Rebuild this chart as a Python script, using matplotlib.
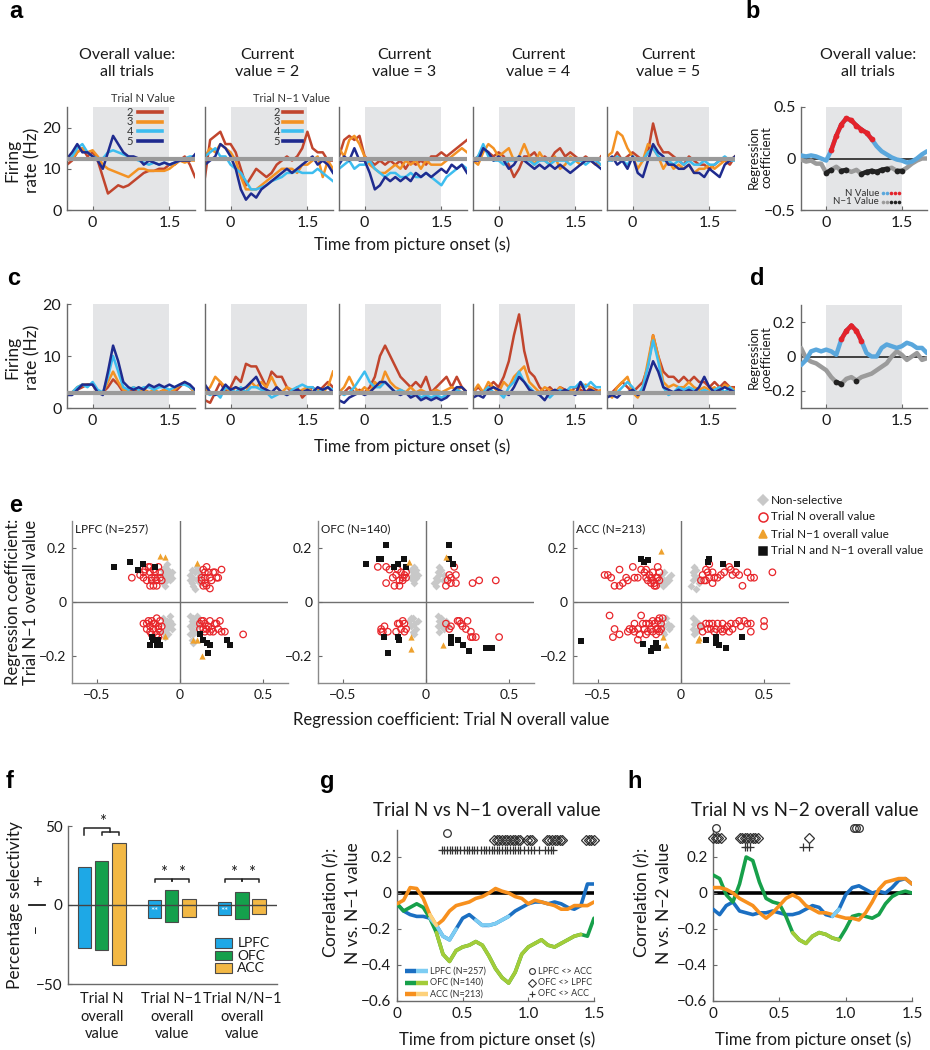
import numpy as np
import matplotlib
matplotlib.use("Agg")
import matplotlib.pyplot as plt
from matplotlib.lines import Line2D
from matplotlib.patches import Rectangle

plt.rcParams["font.family"] = ["Lato", "DejaVu Sans"]
plt.rcParams["axes.unicode_minus"] = True
plt.rcParams["mathtext.fontset"] = "custom"
plt.rcParams["mathtext.it"] = "Lato:italic"
plt.rcParams["mathtext.rm"] = "Lato"

# ---------------------------------------------------------------- data
T = [-0.5, -0.4, -0.3, -0.2, -0.1, 0.0, 0.1, 0.2, 0.3, 0.4, 0.5, 0.6, 0.7,
     0.8, 0.9, 1.0, 1.1, 1.2, 1.3, 1.4, 1.5, 1.6, 1.7, 1.8, 1.9, 2.0]
TG = [0.0, 0.05, 0.1, 0.15, 0.2, 0.25, 0.3, 0.35, 0.4, 0.45, 0.5, 0.55, 0.6,
      0.65, 0.7, 0.75, 0.8, 0.85, 0.9, 0.95, 1.0, 1.05, 1.1, 1.15, 1.2, 1.25,
      1.3, 1.35, 1.4, 1.45, 1.5]
VALUE_LABELS = ["2", "3", "4", "5"]
A_TITLES = ["Overall value:\nall trials", "Current\nvalue = 2", "Current\nvalue = 3",
            "Current\nvalue = 4", "Current\nvalue = 5"]

# panel a: firing rate (Hz) for value 2, 3, 4, 5
A0 = [[11, 12, 14, 15, 13, 14, 12, 8, 4, 5, 6, 5.5, 6, 7, 8, 9, 9.5, 9.5, 10, 10, 11, 11, 12, 13, 11, 8],
      [12, 12.5, 14, 15, 14, 14.5, 13, 11, 10, 9.5, 9, 8.5, 8, 9, 10, 10, 9.5, 9.5, 9.5, 9.5, 10, 11, 12, 11.5, 12, 12],
      [12, 13, 15, 16, 14, 13, 12.5, 12.5, 14, 14.5, 14, 13.5, 13, 12.5, 12, 11.5, 11, 11.5, 11, 11.5, 11, 11.5, 12, 12.5, 13, 13],
      [12.5, 14, 16, 14, 14, 13, 12, 10, 14, 18, 16, 14, 13, 13, 12.5, 11, 12, 11.5, 11, 11.5, 11, 11.5, 12, 12, 12, 13.5]]
A1 = [[8, 17, 18, 19, 16, 16, 14, 10, 6, 8, 10, 9, 8, 9, 11, 12, 13, 12, 13, 15, 19, 15, 14, 14, 12, 12],
      [13, 15, 14, 16, 15, 14, 12, 8, 5, 5, 5, 6, 7, 8, 9, 10, 10, 10, 9, 11, 11, 12, 13, 8, 12, 10],
      [13, 14, 15, 13, 13, 11, 10, 9, 7, 5, 5, 5.5, 6, 7, 7.5, 8, 9, 9, 9.5, 9, 9, 9, 10, 9, 8, 7],
      [11, 12, 13, 16, 15, 13, 10, 5, 2.5, 4, 3, 5, 6, 7, 8, 9, 10, 9, 10, 11, 12, 13, 11, 12, 11, 9]]
A2 = [[13, 17, 18, 17, 18, 13, 12, 11, 12, 11, 12, 11, 12, 10, 12, 11, 12, 11, 13, 13, 14, 13, 14, 15, 16, 17],
      [15, 13, 17, 18, 16, 13, 11, 10, 9, 9, 10, 11, 10, 12, 11, 12, 10, 12, 11, 11, 11, 12, 13, 14, 15, 14],
      [10, 11, 12, 10, 11, 11, 12, 10, 9, 8, 9, 9, 8, 8, 9, 8, 8, 9, 8, 7, 6, 8, 9, 10, 11, 10],
      [11, 13, 12, 15, 12, 12, 9, 5, 6, 8, 7, 8, 7, 8, 7, 9, 8, 9, 8, 9, 10, 9, 11, 10, 11, 9]]
A3 = [[12, 13, 15, 14, 13, 14, 13, 11, 8, 10, 13, 13, 14, 12, 13, 12, 14, 15, 13, 14, 13, 12, 13, 12, 11, 13],
      [12, 11, 14, 16, 15, 13, 14, 15, 12, 13, 16, 13, 11, 14, 12, 11, 13, 10, 11, 13, 12, 11, 12, 12, 11, 11],
      [12, 13, 16, 13, 12, 12, 11, 12, 12, 13, 12, 12, 11, 12, 12, 11, 12, 12, 12, 11, 12, 12, 11, 12, 12, 11],
      [12, 12, 15, 14, 12, 13, 12, 10, 11, 13, 12, 11, 10, 11, 10, 11, 10, 11, 10, 9, 10, 11, 12, 12, 11, 10]]
A4 = [[13, 12, 14, 12, 13, 14, 13, 12, 14, 21, 16, 14, 14, 13, 12, 11, 13, 12, 11, 11, 10, 11, 12, 12, 11, 13],
      [13, 14, 19, 18, 15, 13, 10, 12, 16, 15, 13, 10, 12, 10, 11, 10, 11, 9, 10, 10, 11, 10, 11, 12, 12, 13],
      [12, 12, 13, 12, 11, 13, 12, 12, 14, 15, 13, 12, 12, 11, 12, 11, 12, 11, 11, 12, 11, 11, 12, 13, 12, 12],
      [12, 13, 11, 12, 10, 13, 9, 8, 12, 16, 14, 13, 11, 11, 10, 10, 11, 9, 9, 8, 10, 9, 8, 11, 12, 13]]
A_BASE = 12.3

# panel c: firing rate (Hz)
C0 = [[3, 3, 3.5, 4, 4.5, 4.5, 3, 3, 4, 5.5, 4.5, 3, 3.5, 3.5, 3, 3.5, 3, 3, 3, 3.5, 3, 3, 4, 5, 4, 3],
      [3, 3, 4, 4.5, 4.5, 4.5, 3, 3, 5, 7, 5, 3.5, 3.5, 4, 3.5, 3.5, 3, 3.5, 3, 3.5, 3, 3.5, 4.5, 5, 4, 3],
      [2.5, 3, 4, 4.5, 4, 5, 3.5, 3, 6, 10, 7, 4, 3.5, 4, 3.5, 4, 4, 3.5, 4, 4, 3.5, 4, 4.5, 4.5, 4, 3.5],
      [2.5, 2.5, 3.5, 4.5, 4.5, 4.5, 3, 2.5, 7, 12, 9, 5, 4, 3.5, 4, 3.5, 4.5, 4, 4.5, 4, 4.5, 4, 4.5, 5, 4.5, 3.5]]
C1 = [[1.5, 1, 3, 5, 3, 4, 6, 5, 8.5, 8, 8, 6, 4, 7, 6, 6, 4, 3, 4, 2, 3, 4, 3, 4, 5, 4],
      [3, 4, 6, 5, 4, 3, 4, 3.5, 3, 5, 4, 5, 4, 6, 4, 3, 4, 3.5, 3, 3.5, 4, 3, 3.5, 3, 4, 7],
      [3, 2.5, 3, 2, 4, 3.5, 3, 4, 3, 4, 4, 3.5, 3, 2, 2.5, 3, 2.5, 3.5, 4, 4.5, 4, 4, 3, 3.5, 4, 3.5],
      [4.5, 3, 2.5, 3, 4.5, 3.5, 4, 3.5, 4, 5, 6, 4, 3.5, 3, 4, 3, 2.5, 3, 3.5, 3, 3.5, 3, 4, 3.5, 4, 3]]
C2 = [[2.5, 3, 4, 3, 3.5, 3, 4, 6, 10, 12, 10, 8, 6, 5, 4, 5, 4, 6, 3, 4, 5, 6, 4, 6, 4, 3],
      [3, 4, 6, 4, 3, 4, 3, 5, 4, 7, 5, 4, 3.5, 3, 4, 3, 3.5, 3, 3, 3.5, 3, 3.5, 4, 3.5, 4, 3],
      [3, 2.5, 3, 4, 5.5, 7, 5, 4, 4, 5, 4, 3, 3.5, 3, 2.5, 3, 2, 2.5, 2, 2.5, 2, 2.5, 3, 3.5, 3, 3],
      [1.5, 1, 2, 2.5, 3, 2.5, 3, 4, 5, 5, 4, 3, 2.5, 3, 2, 2.5, 1.5, 2, 1.5, 2, 1.5, 2, 3, 4, 4, 3]]
C3 = [[3, 4, 3, 4, 5, 4, 6, 9, 14, 18, 11, 7, 6, 4, 3, 4, 3, 4, 3.5, 3, 4, 3.5, 3, 4, 3.5, 3],
      [3, 4.5, 3, 5, 4, 3, 5, 4, 6, 7, 8, 5, 4, 3, 4, 3.5, 3, 4, 3, 3.5, 3, 4, 4.5, 4, 3, 3.5],
      [3, 2.5, 3, 4, 3, 3, 2, 4, 5, 7, 5, 4, 3, 2.5, 3, 2, 3, 3.5, 3, 4, 4, 5, 4, 5, 4, 4],
      [2, 2.5, 2, 3.5, 4, 3.5, 3, 2.5, 4, 6, 5, 3.5, 3, 2.5, 1.5, 3, 3.5, 3, 3.5, 3, 2.5, 5, 3, 3.5, 3, 3]]
C4 = [[3, 3, 4, 5, 4, 3, 4, 5, 8, 14, 10, 7, 6, 6, 5, 6, 5, 6, 5, 5, 4, 5, 4, 5, 4, 4],
      [3, 2, 4, 5, 6, 3, 2, 4, 9, 14, 10, 5, 4, 4.5, 4, 4, 5, 4, 3.5, 4, 3.5, 4, 3, 4.5, 4, 3.5],
      [2.5, 3, 3, 4, 5, 4, 2.5, 4, 8, 13, 9, 4, 2.5, 3, 4, 3.5, 4, 3.5, 3, 3.5, 3, 3.5, 4, 3, 4, 3],
      [2, 2.5, 2, 3, 3, 3.5, 2.5, 3, 6, 9, 7, 4, 3.5, 3, 3.5, 3, 3.5, 3, 4, 6, 4, 3, 3.5, 4, 3.5, 3]]
C_BASE = 2.9

# panel b / d: regression coefficients and significance flags
B_N = [0.03, 0.02, 0.03, 0.02, 0.00, -0.02, 0.08, 0.22, 0.33, 0.39, 0.37, 0.32, 0.28,
       0.25, 0.19, 0.12, 0.07, 0.04, 0.01, -0.01, -0.02, -0.04, -0.03, 0.00, 0.04, 0.07]
B_N_SIG = [0, 0, 0, 0, 0, 0, 1, 1, 1, 1, 1, 1, 1, 1, 1, 0, 0, 0, 0, 0, 0, 0, 0, 0, 0, 0]
B_N1 = [-0.01, -0.03, -0.02, -0.05, -0.05, -0.14, -0.11, -0.08, -0.12, -0.11, -0.13, -0.11, -0.15,
        -0.13, -0.12, -0.13, -0.11, -0.10, -0.09, -0.12, -0.12, -0.09, -0.05, -0.02, 0.00, 0.00]
B_N1_SIG = [0, 0, 0, 0, 0, 1, 1, 0, 1, 1, 0, 0, 1, 1, 1, 1, 1, 1, 0, 1, 1, 0, 0, 0, 0, 0]
D_N = [-0.05, -0.02, 0.03, 0.04, 0.03, 0.04, 0.03, 0.01, 0.10, 0.15, 0.18, 0.15, 0.09,
       0.02, 0.00, 0.00, 0.05, 0.07, 0.06, 0.05, 0.06, 0.08, 0.07, 0.05, 0.05, 0.02]
D_N_SIG = [0, 0, 0, 0, 0, 0, 0, 0, 1, 1, 1, 1, 1, 0, 0, 0, 0, 0, 0, 0, 0, 0, 0, 0, 0, 0]
D_N1 = [0.05, -0.01, -0.03, -0.04, -0.06, -0.08, -0.12, -0.15, -0.16, -0.13, -0.12, -0.14, -0.12,
        -0.11, -0.10, -0.08, -0.06, -0.04, 0.00, 0.03, 0.01, -0.02, 0.00, 0.02, -0.02, -0.01]
D_N1_SIG = [0, 0, 0, 0, 0, 0, 0, 1, 1, 0, 0, 1, 0, 0, 0, 0, 0, 0, 0, 0, 0, 0, 0, 0, 0, 0]

# panel e: (N coefficient, N-1 coefficient)
LPFC_GRAY = [(-0.10, 0.12), (-0.09, 0.10), (-0.08, 0.11), (-0.07, 0.09), (-0.06, 0.10), (-0.05, 0.09),
             (-0.08, 0.08), (-0.10, 0.07), (-0.09, 0.13), (-0.07, 0.12), (-0.06, 0.08), (-0.11, 0.10),
             (-0.09, 0.06), (-0.05, 0.11), (-0.08, 0.14),
             (0.06, 0.10), (0.07, 0.12), (0.08, 0.09), (0.09, 0.11), (0.10, 0.08), (0.07, 0.07), (0.11, 0.12),
             (0.12, 0.10), (0.10, 0.13), (0.08, 0.06), (0.06, 0.08), (0.12, 0.07), (0.09, 0.05), (0.11, 0.09),
             (-0.10, -0.06), (-0.09, -0.08), (-0.08, -0.07), (-0.07, -0.09), (-0.06, -0.07), (-0.05, -0.08),
             (-0.08, -0.10), (-0.10, -0.11), (-0.07, -0.12), (-0.06, -0.05), (-0.09, -0.13), (-0.05, -0.10),
             (0.06, -0.05), (0.07, -0.07), (0.08, -0.06), (0.09, -0.08), (0.07, -0.10), (0.08, -0.12),
             (0.06, -0.09), (0.10, -0.05), (0.09, -0.11), (0.07, -0.14), (0.08, -0.15), (0.06, -0.12),
             (0.10, -0.09), (0.11, -0.07)]
LPFC_RED = [(-0.29, 0.09), (-0.24, 0.10), (-0.22, 0.09), (-0.21, 0.12), (-0.19, 0.13), (-0.18, 0.11),
            (-0.17, 0.08), (-0.16, 0.12), (-0.15, 0.09), (-0.18, 0.06), (-0.14, 0.08), (-0.12, 0.11),
            (-0.13, 0.13), (-0.17, 0.09), (-0.20, 0.08), (-0.14, 0.06), (-0.16, 0.06), (-0.18, 0.13),
            (-0.12, 0.09), (-0.11, 0.08), (-0.22, 0.11), (-0.15, 0.11),
            (0.13, 0.09), (0.14, 0.12), (0.16, 0.13), (0.17, 0.11), (0.15, 0.07), (0.14, 0.06), (0.16, 0.06),
            (0.18, 0.05), (0.18, 0.09), (0.20, 0.11), (0.21, 0.11), (0.22, 0.09), (0.25, 0.12), (0.23, 0.09),
            (0.15, 0.09), (0.19, 0.08), (0.13, 0.08), (0.15, 0.11),
            (-0.22, -0.08), (-0.20, -0.10), (-0.19, -0.07), (-0.18, -0.09), (-0.17, -0.07), (-0.16, -0.10),
            (-0.15, -0.08), (-0.14, -0.06), (-0.13, -0.09), (-0.12, -0.07), (-0.12, -0.11), (-0.14, -0.12),
            (-0.18, -0.11), (-0.20, -0.08), (-0.16, -0.08), (-0.13, -0.10), (-0.11, -0.09), (-0.17, -0.12),
            (-0.13, -0.13),
            (0.12, -0.08), (0.13, -0.07), (0.14, -0.10), (0.15, -0.08), (0.16, -0.10), (0.17, -0.09),
            (0.18, -0.07), (0.19, -0.10), (0.20, -0.11), (0.21, -0.08), (0.22, -0.08), (0.23, -0.10),
            (0.24, -0.07), (0.25, -0.11), (0.27, -0.11), (0.38, -0.12), (0.15, -0.11), (0.12, -0.10),
            (0.18, -0.11), (0.14, -0.07)]
LPFC_BLACK = [(-0.40, 0.13), (-0.30, 0.15), (-0.25, 0.12), (-0.22, 0.14), (-0.15, 0.13),
              (-0.18, -0.16), (-0.16, -0.14), (-0.14, -0.16), (-0.13, -0.14), (-0.12, -0.16),
              (-0.14, -0.15), (-0.17, -0.13), (0.12, -0.12), (0.14, -0.14), (0.16, -0.15),
              (0.18, -0.16), (0.17, -0.19), (0.28, -0.14), (0.30, -0.16)]
LPFC_TRI = [(-0.12, 0.17), (-0.09, 0.165), (0.10, 0.145), (-0.09, -0.125), (0.08, -0.14),
            (0.10, -0.14), (0.13, -0.20)]

OFC_GRAY = [(-0.09, 0.12), (-0.08, 0.10), (-0.07, 0.11), (-0.06, 0.09), (-0.08, 0.08), (-0.07, 0.07),
            (-0.05, 0.10), (-0.09, 0.09), (-0.06, 0.12), (-0.07, 0.13),
            (0.05, 0.07), (0.06, 0.09), (0.07, 0.11), (0.08, 0.10), (0.09, 0.12), (0.06, 0.06),
            (0.10, 0.08), (0.08, 0.13), (0.11, 0.10), (0.07, 0.08),
            (-0.10, -0.07), (-0.09, -0.09), (-0.08, -0.06), (-0.07, -0.08), (-0.06, -0.10), (-0.08, -0.11),
            (-0.05, -0.07), (-0.07, -0.12), (-0.09, -0.06),
            (0.07, -0.05), (0.08, -0.07), (0.09, -0.06), (0.10, -0.08), (0.07, -0.09), (0.11, -0.10),
            (0.08, -0.11), (0.12, -0.07), (0.09, -0.09), (0.13, -0.09)]
OFC_RED = [(-0.29, 0.13), (-0.24, 0.13), (-0.22, 0.12), (-0.20, 0.09), (-0.18, 0.10), (-0.17, 0.12),
           (-0.16, 0.08), (-0.14, 0.09), (-0.13, 0.10), (-0.12, 0.11), (-0.12, 0.09), (-0.24, 0.07),
           (-0.19, 0.06), (-0.16, 0.06), (-0.14, 0.08), (-0.15, 0.11),
           (0.17, 0.13), (0.14, 0.10), (0.18, 0.10), (0.13, 0.08), (0.15, 0.07), (0.12, 0.06),
           (0.18, 0.07), (0.28, 0.07), (0.32, 0.08), (0.42, 0.08), (0.15, 0.09),
           (-0.27, -0.11), (-0.25, -0.09), (-0.26, -0.11), (-0.23, -0.11), (-0.18, -0.11), (-0.16, -0.08),
           (-0.15, -0.10), (-0.14, -0.07), (-0.13, -0.08), (-0.13, -0.11), (-0.12, -0.10), (-0.17, -0.08),
           (-0.27, -0.10),
           (0.12, -0.08), (0.15, -0.09), (0.14, -0.10), (0.19, -0.07), (0.20, -0.07), (0.21, -0.08),
           (0.22, -0.09), (0.25, -0.07), (0.24, -0.10), (0.27, -0.11), (0.28, -0.13), (0.30, -0.13),
           (0.27, -0.13), (0.44, -0.13)]
OFC_BLACK = [(-0.36, 0.14), (-0.28, 0.16), (-0.27, 0.16), (-0.24, 0.21), (-0.19, 0.13), (-0.17, 0.14),
             (-0.13, 0.16), (-0.12, 0.13), (0.14, 0.21), (0.14, 0.16), (0.16, 0.14),
             (-0.25, -0.13), (-0.23, -0.19), (-0.17, -0.13), (-0.16, -0.14), (0.15, -0.13),
             (0.15, -0.15), (0.19, -0.14), (0.22, -0.16), (0.26, -0.18), (0.36, -0.17), (0.40, -0.17)]
OFC_TRI = [(-0.10, 0.15), (0.12, 0.165), (-0.09, -0.13), (-0.09, -0.175), (0.10, -0.16)]

ACC_GRAY = [(-0.12, 0.10), (-0.10, 0.08), (-0.08, 0.09), (-0.06, 0.10), (-0.09, 0.07), (-0.11, 0.06),
            (-0.07, 0.08), (-0.13, 0.07), (-0.10, 0.11),
            (0.07, 0.08), (0.08, 0.10), (0.09, 0.12), (0.06, 0.06), (0.10, 0.09), (0.08, 0.13),
            (0.11, 0.07), (0.07, 0.11), (0.09, 0.05),
            (-0.12, -0.07), (-0.10, -0.09), (-0.08, -0.08), (-0.07, -0.10), (-0.11, -0.11),
            (-0.09, -0.06), (-0.06, -0.09), (-0.10, -0.12),
            (0.07, -0.06), (0.08, -0.08), (0.09, -0.07), (0.10, -0.10), (0.07, -0.10), (0.11, -0.08),
            (0.08, -0.12), (0.12, -0.09), (0.09, -0.11)]
ACC_RED = [(-0.46, 0.10), (-0.44, 0.10), (-0.42, 0.09), (-0.37, 0.12), (-0.40, 0.06), (-0.37, 0.06),
           (-0.35, 0.07), (-0.33, 0.09), (-0.32, 0.08), (-0.29, 0.13), (-0.28, 0.09), (-0.26, 0.09),
           (-0.24, 0.12), (-0.22, 0.11), (-0.21, 0.09), (-0.20, 0.08), (-0.19, 0.10), (-0.18, 0.09),
           (-0.17, 0.11), (-0.17, 0.08), (-0.16, 0.07), (-0.15, 0.09), (-0.14, 0.09), (-0.16, 0.06),
           (-0.14, 0.13), (-0.13, 0.11), (-0.13, 0.08), (-0.15, 0.06), (-0.21, 0.12), (-0.18, 0.07),
           (0.17, 0.14), (0.15, 0.12), (0.13, 0.10), (0.14, 0.08), (0.12, 0.08), (0.15, 0.08),
           (0.17, 0.09), (0.19, 0.11), (0.20, 0.09), (0.22, 0.09), (0.24, 0.10), (0.26, 0.11),
           (0.29, 0.13), (0.30, 0.12), (0.31, 0.10), (0.33, 0.11), (0.35, 0.10), (0.37, 0.06),
           (0.40, 0.11), (0.42, 0.09), (0.44, 0.09), (0.55, 0.11), (0.19, 0.07), (0.16, 0.11),
           (-0.43, -0.05), (-0.40, -0.10), (-0.41, -0.13), (-0.37, -0.12), (-0.32, -0.11), (-0.31, -0.10),
           (-0.29, -0.10), (-0.28, -0.08), (-0.26, -0.10), (-0.25, -0.12), (-0.26, -0.14), (-0.24, -0.05),
           (-0.23, -0.08), (-0.22, -0.10), (-0.21, -0.08), (-0.20, -0.11), (-0.19, -0.08), (-0.18, -0.10),
           (-0.17, -0.07), (-0.17, -0.11), (-0.16, -0.08), (-0.15, -0.10), (-0.14, -0.07), (-0.14, -0.10),
           (-0.13, -0.06), (-0.12, -0.08), (-0.12, -0.10), (-0.11, -0.06), (-0.13, -0.11), (-0.15, -0.12),
           (-0.28, -0.11), (-0.21, -0.12),
           (0.12, -0.09), (0.13, -0.11), (0.15, -0.08), (0.16, -0.10), (0.17, -0.08), (0.18, -0.10),
           (0.19, -0.08), (0.21, -0.10), (0.22, -0.08), (0.24, -0.10), (0.25, -0.08), (0.26, -0.10),
           (0.28, -0.09), (0.29, -0.11), (0.30, -0.08), (0.31, -0.10), (0.33, -0.08), (0.35, -0.07),
           (0.36, -0.09), (0.38, -0.07), (0.40, -0.08), (0.42, -0.08), (0.42, -0.11), (0.50, -0.07),
           (0.50, -0.09), (0.20, -0.11), (0.25, -0.11)]
ACC_BLACK = [(-0.24, 0.16), (-0.22, 0.15), (-0.20, 0.155), (0.16, 0.15), (0.17, 0.16), (0.25, 0.14),
             (0.34, 0.14), (-0.60, -0.145), (-0.23, -0.155), (-0.18, -0.18), (-0.17, -0.17),
             (-0.15, -0.15), (-0.14, -0.17), (0.15, -0.14), (0.21, -0.13), (0.21, -0.15),
             (0.23, -0.16), (0.27, -0.17), (0.37, -0.13)]
ACC_TRI = [(-0.12, 0.19), (-0.11, -0.13), (-0.09, -0.16), (0.10, -0.14), (0.11, -0.135)]

E_AREAS = ["LPFC (N=257)", "OFC (N=140)", "ACC (N=213)"]

# panel f: percentage selectivity (positive, negative) per area
F_GROUPS = ["Trial N\noverall\nvalue", "Trial N\u22121\noverall\nvalue", "Trial N/N\u22121\noverall\nvalue"]
F_AREAS = ["LPFC", "OFC", "ACC"]
F_POS = {"LPFC": [24, 3, 2], "OFC": [28, 9.5, 8], "ACC": [39.5, 4, 3.5]}
F_NEG = {"LPFC": [-27, -8, -6.5], "OFC": [-28.5, -11, -9], "ACC": [-38, -7.5, -5.5]}

# panel g / h: correlation time courses + significance flags
LPFC_G = [-0.06, -0.10, -0.12, -0.13, -0.13, -0.14, -0.18, -0.24, -0.26, -0.20, -0.14, -0.12, -0.15,
          -0.18, -0.18, -0.17, -0.15, -0.13, -0.10, -0.08, -0.06, -0.05, -0.05, -0.06, -0.05, -0.06,
          -0.08, -0.09, -0.07, 0.05, 0.05]
LPFC_G_SIG = [0, 0, 0, 0, 0, 1, 1, 1, 1, 1, 0, 0, 1, 1, 1, 1, 1, 1, 0, 0, 0, 0, 0, 0, 0, 0, 0, 0, 0, 0, 0]
OFC_G = [-0.06, -0.10, -0.08, -0.06, -0.08, -0.14, -0.22, -0.34, -0.38, -0.32, -0.30, -0.29, -0.27,
         -0.29, -0.35, -0.42, -0.47, -0.50, -0.44, -0.34, -0.30, -0.28, -0.26, -0.29, -0.30, -0.28,
         -0.26, -0.24, -0.23, -0.24, -0.14]
OFC_G_SIG = [0, 0, 0, 0, 0, 0, 1, 1, 1, 1, 1, 1, 1, 1, 1, 1, 1, 1, 1, 1, 1, 1, 1, 1, 1, 1, 1, 1, 1, 0, 0]
ACC_G = [-0.06, -0.04, 0.03, 0.025, -0.03, -0.12, -0.18, -0.15, -0.10, -0.07, -0.06, -0.05, -0.03,
         -0.02, 0.00, 0.025, 0.01, 0.00, -0.02, -0.03, -0.06, -0.04, -0.05, -0.06, -0.07, -0.09,
         -0.09, -0.07, -0.07, -0.07, -0.05]
ACC_G_SIG = [0, 0, 0, 0, 0, 1, 1, 0, 0, 0, 0, 0, 0, 0, 0, 0, 0, 0, 0, 0, 0, 0, 0, 0, 0, 0, 0, 0, 0, 0, 0]
G_CIRCLES = [0.38]
G_DIAMONDS = [0.74, 0.76, 0.78, 0.80, 0.82, 0.84, 0.86, 0.88, 0.90, 0.92, 0.94, 0.99, 1.01, 1.03,
              1.14, 1.16, 1.18, 1.20, 1.22, 1.24, 1.26, 1.44, 1.46, 1.48, 1.50]
G_PLUSES = [0.34, 0.36, 0.38, 0.40, 0.42, 0.44, 0.46, 0.48, 0.51, 0.53, 0.55, 0.57, 0.59, 0.61,
            0.64, 0.66, 0.68, 0.70, 0.72, 0.74, 0.76, 0.78, 0.80, 0.82, 0.84, 0.86, 0.88, 0.90,
            0.92, 0.94, 0.97, 1.00, 1.02, 1.04, 1.08, 1.13, 1.15, 1.17, 1.19]

LPFC_H = [-0.09, -0.12, -0.07, -0.05, -0.10, -0.11, -0.12, -0.11, -0.11, -0.10, -0.11, -0.12, -0.12,
          -0.11, -0.09, -0.07, -0.08, -0.12, -0.13, -0.09, -0.01, 0.03, 0.04, 0.02, 0.00, 0.01,
          0.00, 0.03, 0.07, 0.08, 0.05]
LPFC_H_SIG = [0] * 18 + [1, 1] + [0] * 11
OFC_H = [0.10, 0.08, -0.01, -0.05, 0.05, 0.20, 0.18, 0.06, -0.03, -0.05, -0.06, -0.13, -0.22, -0.26,
         -0.28, -0.24, -0.22, -0.23, -0.25, -0.26, -0.20, -0.13, -0.12, -0.13, -0.14, -0.12, -0.06,
         -0.02, 0.00, 0.01, 0.00]
OFC_H_SIG = [0] * 12 + [1] * 8 + [0] * 11
ACC_H = [0.03, 0.03, 0.02, 0.00, -0.03, -0.05, -0.07, -0.11, -0.14, -0.11, -0.07, -0.03, -0.01,
         -0.03, -0.07, -0.09, -0.11, -0.11, -0.12, -0.13, -0.14, -0.14, -0.15, -0.11, -0.05, 0.02,
         0.06, 0.07, 0.08, 0.08, 0.05]
ACC_H_SIG = [0] * 31
H_CIRCLES = [0.02, 1.06, 1.08, 1.10]
H_DIAMONDS = [0.0, 0.02, 0.04, 0.06, 0.20, 0.22, 0.24, 0.26, 0.28, 0.30, 0.32, 0.34, 0.72]
H_PLUSES = [0.24, 0.26, 0.28, 0.68, 0.72]

# ---------------------------------------------------------------- style
W, H = 930, 1050
fig = plt.figure(figsize=(9.3, 10.5), dpi=100)
fig.patch.set_facecolor("white")

C_RED, C_ORA, C_CYA, C_NAV = "#c1452d", "#f39224", "#3dbdef", "#1f2b8f"
LINE_COLORS = [C_RED, C_ORA, C_CYA, C_NAV]
SHADE = "#e4e5e7"
SPINE = "#6a6a6a"
TXT = "#1a1a1a"


def add_ax(l, t, r, b):
    return fig.add_axes([l / W, 1 - b / H, (r - l) / W, (b - t) / H])


def ftext(x, y, s, **kw):
    kw.setdefault("color", TXT)
    return fig.text(x / W, 1 - y / H, s, **kw)


def fline(x0, x1, y, **kw):
    fig.add_artist(Line2D([x0 / W, x1 / W], [1 - y / H, 1 - y / H], transform=fig.transFigure, **kw))


def fmark(x, y, **kw):
    fig.add_artist(Line2D([x / W], [1 - y / H], transform=fig.transFigure, linestyle="none", **kw))


def style(ax, labelsize=10.5):
    for s in ("top", "right"):
        ax.spines[s].set_visible(False)
    for s in ("left", "bottom"):
        ax.spines[s].set_color(SPINE)
        ax.spines[s].set_linewidth(1.0)
    ax.tick_params(direction="in", length=3, width=0.8, colors=SPINE,
                   labelcolor=TXT, labelsize=labelsize, pad=4)


def two_tone(ax, x, y, mask, c_base, c_hi, lw, z=3, dots=False):
    x = np.asarray(x, float)
    y = np.asarray(y, float)
    m = np.asarray(mask, bool)
    ax.plot(x, y, color=c_base, lw=lw, solid_capstyle="round", zorder=z)
    for i in range(len(x) - 1):
        if m[i] and m[i + 1]:
            ax.plot(x[i:i + 2], y[i:i + 2], color=c_hi, lw=lw, solid_capstyle="round", zorder=z + 0.1)
    if dots:
        ax.plot(x[m], y[m], "o", color=c_hi, ms=lw * 1.3, mew=0, zorder=z + 0.2)


def panel_label(x, y, s):
    ftext(x, y, s, fontsize=17, fontweight="bold", family="Liberation Sans", va="baseline", color="black")


# ---------------------------------------------------------------- panels a / c
A_LEFTS = [67, 205, 339, 473, 607]
A_TITLE_X = [127, 267, 404, 538, 668]
for row, (series_set, top, bot, ylim, base, yt) in enumerate([
        ([A0, A1, A2, A3, A4], 107, 210, (0, 25), A_BASE, [0, 10, 20]),
        ([C0, C1, C2, C3, C4], 304, 408, (0, 20), C_BASE, [0, 10, 20])]):
    for k, (l, series) in enumerate(zip(A_LEFTS, series_set)):
        ax = add_ax(l, top, l + 128, bot)
        ax.axvspan(0, 1.5, color=SHADE, lw=0, zorder=0)
        for vals, c in zip(series, LINE_COLORS):
            ax.plot(T, vals, color=c, lw=1.8, zorder=2)
        ax.axhline(base, color="#9a9a9a", lw=3, zorder=4)
        ax.set_xlim(-0.5, 2.0)
        ax.set_ylim(*ylim)
        style(ax, 11.5)
        ax.set_xticks([0, 1.5])
        ax.set_xticklabels(["0", "1.5"])
        ax.set_yticks(yt)
        if k > 0:
            ax.tick_params(axis="y", labelleft=False, length=0)
        if row == 0:
            ftext(A_TITLE_X[k], 79, A_TITLES[k], fontsize=11.5, ha="center", va="bottom", linespacing=1.3)

# legends of panel a
for (cx, title, numx, lx0, lx1) in [(143, "Trial N Value", 133, 138, 162),
                                     (291, "Trial N\u22121 Value", 280, 283, 302)]:
    ftext(cx, 98, title, fontsize=8, ha="center", va="center", color="#333333")
    for i, (lab, c) in enumerate(zip(VALUE_LABELS, LINE_COLORS)):
        yy = 112 + i * 9.7
        ftext(numx, yy, lab, fontsize=8, ha="right", va="center", color="#333333")
        fline(lx0, lx1, yy, color=c, lw=2.6)

for y0, lab_y in [(160, 245), (357, 447)]:
    ftext(22, y0, "Firing\nrate (Hz)", fontsize=12.5, rotation=90, ha="center", va="center", linespacing=1.3)
    ftext(412, lab_y, "Time from picture onset (s)", fontsize=12, ha="center", va="center")

# ---------------------------------------------------------------- panels b / d
C_LBLUE, C_BRED, C_GRAY, C_BLK = "#5aa7dc", "#e3232b", "#9b9b9b", "#222222"
for (top, bot, ylim, yt, ytl, nv, ns, n1v, n1s, yc) in [
        (107, 210, (-0.5, 0.5), [-0.5, 0, 0.5], ["\u22120.5", "0", "0.5"], B_N, B_N_SIG, B_N1, B_N1_SIG, 157),
        (305, 408, (-0.3, 0.3), [-0.2, 0, 0.2], ["\u22120.2", "0", "0.2"], D_N, D_N_SIG, D_N1, D_N1_SIG, 357)]:
    ax = add_ax(801, top, 927, bot)
    ax.axvspan(0, 1.5, color=SHADE, lw=0, zorder=0)
    ax.axhline(0, color="#333333", lw=1.3, zorder=1)
    two_tone(ax, T, n1v, n1s, C_GRAY, C_BLK, 3.2, dots=True)
    two_tone(ax, T, nv, ns, C_LBLUE, C_BRED, 3.2, dots=True)
    ax.set_xlim(-0.5, 2.0)
    ax.set_ylim(*ylim)
    style(ax, 11.5)
    ax.set_xticks([0, 1.5])
    ax.set_xticklabels(["0", "1.5"])
    ax.set_yticks(yt)
    ax.set_yticklabels(ytl)
    ftext(760, yc, "Regression\ncoefficient", fontsize=9.5, rotation=90, ha="center", va="center",
          linespacing=1.15)

ftext(868, 79, "Overall value:\nall trials", fontsize=11.5, ha="center", va="bottom", linespacing=1.3)
for yy, lab, c1, c2 in [(193, "N Value", C_LBLUE, C_BRED), (202, "N\u22121 Value", C_GRAY, C_BLK)]:
    ftext(879, yy, lab, fontsize=7, ha="right", va="center", color="#333333")
    for j, xx in enumerate([883, 887, 891, 895, 899]):
        fmark(xx, yy, marker="o", ms=2.6, mew=0, color=c1 if j < 2 else c2)

# ---------------------------------------------------------------- panel e
E_LEFTS = [72, 318, 573]
E_SETS = [(LPFC_GRAY, LPFC_RED, LPFC_TRI, LPFC_BLACK),
          (OFC_GRAY, OFC_RED, OFC_TRI, OFC_BLACK),
          (ACC_GRAY, ACC_RED, ACC_TRI, ACC_BLACK)]
E_GRAY_C, E_RED_C, E_TRI_C, E_BLK_C = "#c8c8c8", "#e8262b", "#eea12e", "#111111"
for l, name, (g, r, tr, bk) in zip(E_LEFTS, E_AREAS, E_SETS):
    ax = add_ax(l, 521, l + 216, 683)
    ax.axhline(0, color="#707070", lw=1.0, zorder=1)
    ax.axvline(0, color="#707070", lw=1.0, zorder=1)
    gx, gy = zip(*g)
    ax.scatter(gx, gy, marker="D", s=16, color=E_GRAY_C, lw=0, zorder=2)
    rx, ry = zip(*r)
    ax.scatter(rx, ry, marker="o", s=22, facecolors="none", edgecolors=E_RED_C, linewidths=0.9, zorder=3)
    bx, by = zip(*bk)
    ax.scatter(bx, by, marker="s", s=15, color=E_BLK_C, lw=0, zorder=4)
    tx, ty = zip(*tr)
    ax.scatter(tx, ty, marker="^", s=20, color=E_TRI_C, lw=0, zorder=4)
    ax.set_xlim(-0.65, 0.65)
    ax.set_ylim(-0.3, 0.3)
    style(ax, 10)
    for s in ("left", "bottom"):
        ax.spines[s].set_color("#8a8a8a")
    ax.set_xticks([-0.5, 0, 0.5])
    ax.set_xticklabels(["\u22120.5", "0", "0.5"])
    ax.set_yticks([-0.2, 0, 0.2])
    ax.set_yticklabels(["\u22120.2", "0", "0.2"])
    ax.text(0.012, 0.985, name, transform=ax.transAxes, fontsize=8.5, ha="left", va="top", color=TXT)

ftext(22, 602, "Regression coefficient:\nTrial N\u22121 overall value", fontsize=12, rotation=90,
      ha="center", va="center", linespacing=1.2)
ftext(451, 720, "Regression coefficient: Trial N overall value", fontsize=12, ha="center", va="center")
E_LEG = [("D", E_GRAY_C, E_GRAY_C, "Non-selective"), ("o", "white", E_RED_C, "Trial N overall value"),
         ("^", E_TRI_C, E_TRI_C, "Trial N\u22121 overall value"),
         ("s", E_BLK_C, E_BLK_C, "Trial N and N\u22121 overall value")]
for i, (mk, fc, ec, lab) in enumerate(E_LEG):
    yy = 500 + i * 17
    fmark(763, yy, marker=mk, ms=6.5 if mk == "o" else 5.5, mfc=fc, mec=ec, mew=1.1)
    ftext(771, yy, lab, fontsize=8.5, ha="left", va="center")

# ---------------------------------------------------------------- panel f
F_COLORS = {"LPFC": "#1ea8e6", "OFC": "#15a04c", "ACC": "#f2b845"}
F_OFFS = [-0.245, 0.0, 0.245]
ax = add_ax(68, 826, 277, 984)
xs = np.array([1, 2, 3], float)
for off, area in zip(F_OFFS, F_AREAS):
    pos = np.array(F_POS[area], float)
    neg = np.array(F_NEG[area], float)
    ax.bar(xs + off, pos - neg, bottom=neg, width=0.19, color=F_COLORS[area],
           edgecolor="#4a4a4a", lw=0.8, zorder=2)
ax.axhline(0, color="#444444", lw=1.0, zorder=3)
ax.set_xlim(0.52, 3.5)
ax.set_ylim(-50, 50)
style(ax, 11)
ax.set_yticks([-50, 0, 50])
ax.set_yticklabels(["\u221250", "0", "50"])
ax.set_xticks(xs)
ax.set_xticklabels(F_GROUPS, linespacing=1.3, fontsize=10.5)
ax.tick_params(axis="x", length=0, pad=6)
for xx in [1.755, 2.755]:
    ax.text(xx, -4, "**", color="white", fontsize=7, ha="center", va="center", zorder=4)


def bracket(ax, x0, x1, y, d0, d1):
    ax.plot([x0, x0, x1, x1], [y - d0, y, y, y - d1], color="#222222", lw=1.1, zorder=4, clip_on=False)


bracket(ax, 0.755, 1.125, 48.5, 4.5, 2.0)
bracket(ax, 1.0, 1.245, 46.5, 2.5, 2.5)
ax.text(1.01, 52.5, "*", fontsize=12, ha="center", va="center", color=TXT)
for g in [2, 3]:
    bracket(ax, g - 0.245, g, 16.4, 2.0, 1.5)
    bracket(ax, g, g + 0.245, 16.4, 1.5, 2.0)
    ax.text(g - 0.12, 20.5, "*", fontsize=12, ha="center", va="center", color=TXT)
    ax.text(g + 0.14, 20.5, "*", fontsize=12, ha="center", va="center", color=TXT)
for i, area in enumerate(F_AREAS):
    yc = 0.259 - i * 0.079
    ax.add_patch(Rectangle((0.703, yc - 0.03), 0.082, 0.06, transform=ax.transAxes,
                           facecolor=F_COLORS[area], edgecolor="#4a4a4a", lw=0.8, zorder=5))
    ax.text(0.81, yc, area, transform=ax.transAxes, fontsize=10, ha="left", va="center", color=TXT)
ftext(15, 905, "Percentage selectivity", fontsize=12.5, rotation=90, ha="center", va="center")
ftext(37, 883, "+", fontsize=12, ha="center", va="center")
fline(29, 45, 905, color=TXT, lw=1.3)
ftext(37, 929, "\u2212", fontsize=11, rotation=90, ha="center", va="center")

# ---------------------------------------------------------------- panels g / h
G_COL = {"LPFC": ("#1b6fc2", "#7dcdf3"), "OFC": ("#17a04a", "#a3cc39"), "ACC": ("#f7901e", "#fdd17b")}
for (l, r, title, tx, ylab, ylx, xlx, curves, circ, diam, plus, circ_y, diam_y, plus_y, legend) in [
        (397, 594, "Trial N vs N\u22121 overall value", 487, "N vs. N\u22121 value", 341, 497,
         [("LPFC", LPFC_G, LPFC_G_SIG), ("OFC", OFC_G, OFC_G_SIG), ("ACC", ACC_G, ACC_G_SIG)],
         G_CIRCLES, G_DIAMONDS, G_PLUSES, 0.335, 0.292, 0.238, True),
        (713, 912, "Trial N vs N\u22122 overall value", 805, "N vs. N\u22122 value", 652, 813,
         [("LPFC", LPFC_H, LPFC_H_SIG), ("OFC", OFC_H, OFC_H_SIG), ("ACC", ACC_H, ACC_H_SIG)],
         H_CIRCLES, H_DIAMONDS, H_PLUSES, 0.363, 0.307, 0.257, False)]:
    ax = add_ax(l, 830, r, 1001)
    ax.axhline(0, color="black", lw=2.6, zorder=1)
    for area, vals, sig in curves:
        two_tone(ax, TG, vals, sig, G_COL[area][0], G_COL[area][1], 2.6)
    ax.plot(circ, [circ_y] * len(circ), "o", ms=5.5, mfc="none", mec="#333333", mew=0.9, clip_on=False, zorder=5)
    ax.plot(diam, [diam_y] * len(diam), "D", ms=5, mfc="none", mec="#333333", mew=0.9, clip_on=False, zorder=5)
    ax.plot(plus, [plus_y] * len(plus), "+", ms=6, color="#333333", mew=0.9, clip_on=False, zorder=5)
    ax.set_xlim(0, 1.5)
    ax.set_ylim(-0.6, 0.35)
    style(ax, 11)
    ax.set_xticks([0, 0.5, 1.0, 1.5])
    ax.set_xticklabels(["0", "0.5", "1.0", "1.5"])
    ax.set_yticks([-0.6, -0.4, -0.2, 0, 0.2])
    ax.set_yticklabels(["\u22120.6", "\u22120.4", "\u22120.2", "0", "0.2"])
    ftext(tx, 816, title, fontsize=13.5, ha="center", va="baseline")
    ftext(ylx, 903, "Correlation ($\\mathit{r}$):\n" + ylab, fontsize=12.5, rotation=90,
          ha="center", va="center", linespacing=1.25)
    ftext(xlx, 1040, "Time from picture onset (s)", fontsize=12, ha="center", va="center")
    if legend:
        for i, (area, n) in enumerate([("LPFC", 257), ("OFC", 140), ("ACC", 213)]):
            yy = 0.175 - i * 0.067
            ax.plot([0.041, 0.098], [yy, yy], color=G_COL[area][0], lw=3.2, transform=ax.transAxes,
                    solid_capstyle="butt", zorder=6)
            ax.plot([0.098, 0.157], [yy, yy], color=G_COL[area][1], lw=3.2, transform=ax.transAxes,
                    solid_capstyle="butt", zorder=6)
            ax.text(0.168, yy, f"{area} (N={n})", transform=ax.transAxes, fontsize=6.5,
                    ha="left", va="center", color="#333333")
        for i, (mk, lab) in enumerate([("o", "LPFC <> ACC"), ("D", "OFC <> LPFC"), ("+", "OFC <> ACC")]):
            yy = 0.175 - i * 0.067
            if mk == "+":
                ax.plot([0.685], [yy], mk, ms=5, color="#333333", mew=0.8, transform=ax.transAxes)
            else:
                ax.plot([0.685], [yy], mk, ms=4.2, mfc="white", mec="#333333", mew=0.8, transform=ax.transAxes)
            ax.text(0.716, yy, lab, transform=ax.transAxes, fontsize=6.5, ha="left", va="center",
                    color="#333333")

# ---------------------------------------------------------------- panel letters
panel_label(9, 18, "a")
panel_label(745, 18, "b")
panel_label(7, 285, "c")
panel_label(750, 285, "d")
panel_label(9, 512, "e")
panel_label(6, 788, "f")
panel_label(320, 788, "g")
panel_label(627, 788, "h")

fig.savefig("out.png", dpi=100, facecolor="white")
